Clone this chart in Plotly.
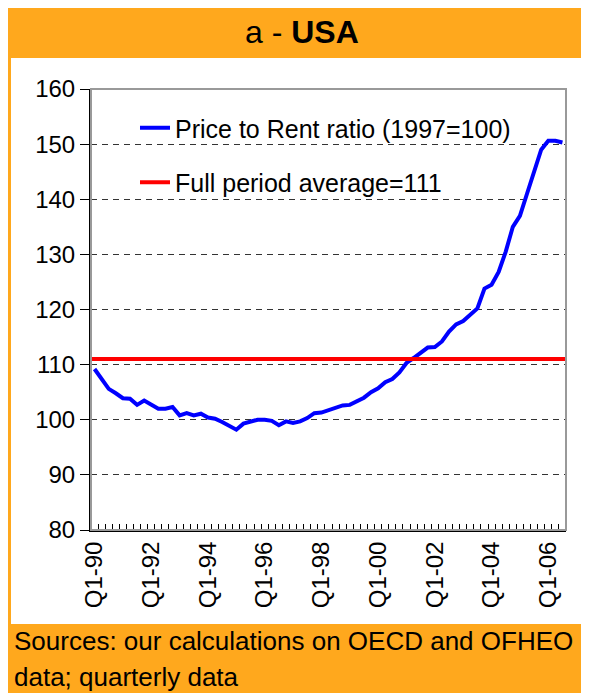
import plotly.graph_objects as go

# quarterly labels Q1-90 .. Q3-06
quarters = [f"Q{q}-{y % 100:02d}" for y in range(1990, 2007) for q in range(1, 5)][:67]

# price to rent ratio, 1997 = 100
ratio = [
    109.2, 107.4, 105.6, 104.8, 103.9, 103.8, 102.7, 103.5, 102.7, 102.0,
    102.0, 102.3, 100.8, 101.2, 100.8, 101.1, 100.4, 100.2, 99.6, 98.9,
    98.2, 99.3, 99.6, 100.0, 100.0, 99.8, 99.0, 99.7, 99.4, 99.7,
    100.3, 101.2, 101.3, 101.7, 102.1, 102.6, 102.7, 103.4, 104.0, 105.0,
    105.7, 106.8, 107.4, 108.6, 110.3, 111.2, 112.1, 113.1, 113.2, 114.2,
    116.0, 117.3, 117.9, 119.0, 120.2, 123.8, 124.5, 126.8, 130.5, 135.0,
    137.0, 141.0, 145.0, 149.0, 150.6, 150.6, 150.3,
]
full_period_avg = 111

tick_labels = quarters[::8]
x = list(range(len(quarters)))

# the page body has an 8px margin, so work in screen pixels minus 8
OFF = 8
W, H = 589 - OFF, 696 - OFF
L, R, T, B = 91 - OFF, 566 - OFF, 89 - OFF, 530 - OFF  # plot area


def px(v):
    return (v - OFF - L) / (R - L)


def py(v):
    return (B - (v - OFF)) / (B - T)


fig = go.Figure()
fig.add_trace(go.Scatter(
    x=x, y=ratio, mode="lines", name="Price to Rent ratio (1997=100)",
    line=dict(color="#0000FF", width=4), legendgroup="a",
))
fig.add_trace(go.Scatter(
    x=[x[0] - 0.5, x[-1] + 0.5], y=[full_period_avg] * 2, mode="lines",
    name=f"Full period average={full_period_avg}",
    line=dict(color="#FF0000", width=4), legendgroup="b",
))

orange = "#FFA81D"
fig.update_layout(
    width=W, height=H,
    margin=dict(l=L, r=W - R, t=T, b=H - B),
    paper_bgcolor="white", plot_bgcolor="white",
    font=dict(family="Liberation Sans, Arial, sans-serif", size=24, color="black"),
    showlegend=True,
    legend=dict(
        x=px(135), y=py(105), xanchor="left", yanchor="top",
        bgcolor="rgba(0,0,0,0)", font=dict(size=25),
        traceorder="grouped", tracegroupgap=19,
    ),
    shapes=[
        dict(type="rect", xref="paper", yref="paper", layer="below",
             x0=px(4), x1=px(589), y0=py(693), y1=py(5),
             fillcolor=orange, line=dict(width=0)),
        dict(type="rect", xref="paper", yref="paper", layer="below",
             x0=px(11), x1=px(585), y0=py(624), y1=py(58),
             fillcolor="white", line=dict(width=0)),
        dict(type="rect", xref="paper", yref="paper", layer="above",
             x0=0, x1=1, y0=0, y1=1,
             fillcolor="rgba(0,0,0,0)", line=dict(color="#999999", width=2)),
    ],
    annotations=[
        dict(text="a - <b>USA</b>", xref="paper", yref="paper",
             x=px(302), y=py(32), xanchor="center", yanchor="middle",
             showarrow=False, font=dict(size=32)),
        dict(text="Sources: our calculations on OECD and OFHEO", xref="paper", yref="paper",
             x=px(12), y=py(641), xanchor="left", yanchor="middle",
             showarrow=False, font=dict(size=26)),
        dict(text="data; quarterly data", xref="paper", yref="paper",
             x=px(12), y=py(677), xanchor="left", yanchor="middle",
             showarrow=False, font=dict(size=26)),
    ],
)

fig.update_xaxes(
    range=[-0.5, len(x) - 0.5],
    tickmode="array", tickvals=x[::8], ticktext=tick_labels, tickangle=-90,
    ticks="", showgrid=False, zeroline=False,
    showline=True, linecolor="black", linewidth=2,
    minor=dict(ticks="inside", tickmode="linear", tick0=-0.5, dtick=1,
               ticklen=6, tickcolor="black", showgrid=False),
)
fig.update_yaxes(
    range=[80, 160], dtick=10, ticks="outside", ticklen=9, tickcolor="black",
    showline=True, linecolor="black", linewidth=2, zeroline=False,
    showgrid=True, gridcolor="#333333", gridwidth=1, griddash="6px,5px",
)

fig.write_html("out.html")
